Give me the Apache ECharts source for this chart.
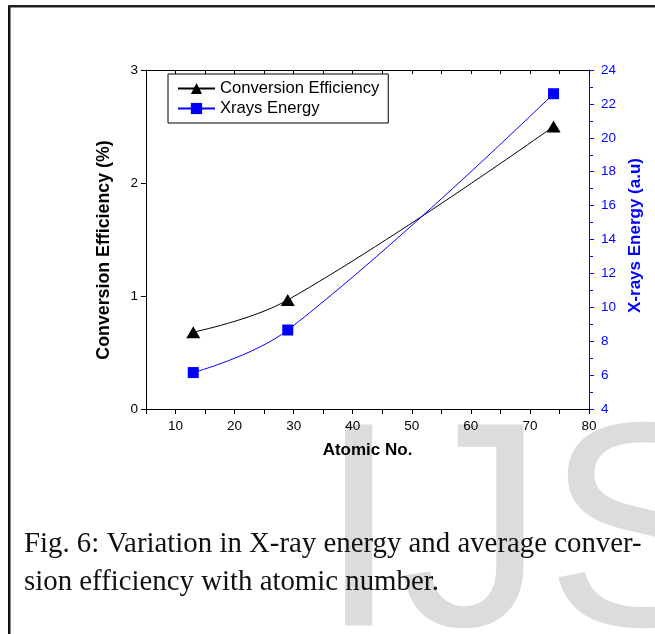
<!DOCTYPE html>
<html>
<head>
<meta charset="utf-8">
<script src="https://cdn.jsdelivr.net/npm/echarts@6/dist/echarts.min.js"></script>
<style>
  html, body { margin: 0; padding: 0; background: #fff; }
  #chart { width: 655px; height: 634px; }
</style>
</head>
<body>
<div id="chart"></div>
<script>
// data
const atomicNo = [13, 29, 74];
const efficiency = [0.68, 0.965, 2.5];
const xrayEnergy = [6.15, 8.66, 22.6];
const seriesNames = ['Conversion Efficiency', 'Xrays Energy'];
const captionLines = [
  'Fig. 6: Variation in X-ray energy and average conver-',
  'sion efficiency with atomic number.'
];
const watermark = 'IJS';

const SANS = 'Arial, "Liberation Sans", sans-serif';
const SERIF = '"Liberation Serif", "Times New Roman", serif';
const BLUE = '#0000ff';

// fit caption line 1 to the width it takes in the figure
const measure = document.createElement('canvas').getContext('2d');
measure.font = '100px ' + SERIF;
const captionSize = 100 * 618 / measure.measureText(captionLines[0]).width;

const chart = echarts.init(document.getElementById('chart'));

const option = {
  animation: false,
  backgroundColor: '#fff',
  grid: { left: 146, right: 66, top: 70, bottom: 225 },
  legend: {
    orient: 'vertical',
    left: 168,
    top: 74,
    padding: [6, 9, 6, 9],
    itemGap: 3,
    itemWidth: 37,
    itemHeight: 14,
    borderColor: '#000',
    borderWidth: 1,
    borderRadius: 0,
    backgroundColor: '#fff',
    textStyle: { fontFamily: SANS, fontSize: 16.6, color: '#000' },
    data: seriesNames
  },
  xAxis: [
    {
      type: 'value',
      position: 'bottom',
      min: 5,
      max: 80,
      interval: 5,
      name: 'Atomic No.',
      nameLocation: 'middle',
      nameGap: 33,
      nameTextStyle: { fontFamily: SANS, fontSize: 17, fontWeight: 'bold', color: '#000' },
      axisLine: { lineStyle: { color: '#000', width: 1 } },
      axisTick: { length: 5, lineStyle: { color: '#000' } },
      axisLabel: {
        margin: 10,
        fontFamily: SANS,
        fontSize: 13.5,
        color: '#000',
        formatter: (v) => (v % 10 === 0 ? String(v) : '')
      },
      splitLine: { show: false }
    },
    {
      type: 'value',
      position: 'top',
      min: 5,
      max: 80,
      interval: 5,
      axisLine: { lineStyle: { color: '#000', width: 1 } },
      axisTick: { inside: true, length: 4, lineStyle: { color: '#000' } },
      axisLabel: { show: false },
      splitLine: { show: false }
    }
  ],
  yAxis: [
    {
      type: 'value',
      position: 'left',
      min: 0,
      max: 3,
      interval: 1,
      name: 'Conversion Efficiency (%)',
      nameLocation: 'middle',
      nameRotate: 90,
      nameGap: 33,
      nameTextStyle: {
        fontFamily: SANS, fontSize: 17.8, fontWeight: 'bold', color: '#000',
        padding: [0, 21, 0, 0]
      },
      axisLine: { show: true, lineStyle: { color: '#000', width: 1 } },
      axisTick: { show: true, length: 5, lineStyle: { color: '#000' } },
      axisLabel: { margin: 8, fontFamily: SANS, fontSize: 13.5, color: '#000' },
      splitLine: { show: false }
    },
    {
      type: 'value',
      position: 'right',
      min: 4,
      max: 24,
      interval: 2,
      name: 'X-rays Energy (a.u)',
      nameLocation: 'middle',
      nameRotate: 90,
      nameGap: 35,
      nameTextStyle: {
        fontFamily: SANS, fontSize: 17, fontWeight: 'bold', color: BLUE,
        padding: [0, 0, 0, 8]
      },
      axisLine: { show: true, lineStyle: { color: BLUE, width: 1 } },
      axisTick: { show: true, length: 5, lineStyle: { color: BLUE } },
      minorTick: { show: true, splitNumber: 2, length: 4, lineStyle: { color: BLUE } },
      axisLabel: { margin: 12, fontFamily: SANS, fontSize: 13.5, color: BLUE },
      splitLine: { show: false }
    }
  ],
  series: [
    {
      name: seriesNames[0],
      type: 'line',
      xAxisIndex: 0,
      yAxisIndex: 0,
      data: atomicNo.map((x, i) => [x, efficiency[i]]),
      smooth: 0.4,
      symbol: 'triangle',
      symbolSize: [14, 12],
      itemStyle: { color: '#000' },
      lineStyle: { color: '#000', width: 1 },
      z: 3
    },
    {
      name: seriesNames[1],
      type: 'line',
      xAxisIndex: 0,
      yAxisIndex: 1,
      data: atomicNo.map((x, i) => [x, xrayEnergy[i]]),
      smooth: 0.4,
      symbol: 'rect',
      symbolSize: 11,
      itemStyle: { color: BLUE },
      lineStyle: { color: BLUE, width: 1 },
      z: 3
    }
  ],
  graphic: [
    {
      type: 'text',
      z: -10,
      left: 318,
      top: 399,
      style: {
        text: watermark,
        fill: '#dcdcdc',
        font: '292px ' + SANS
      }
    },
    {
      type: 'text',
      z: 10,
      style: {
        text: captionLines[0],
        x: 24,
        y: 553 - 0.305 * captionSize,
        fill: '#111',
        font: captionSize.toFixed(2) + 'px ' + SERIF,
        verticalAlign: 'middle'
      }
    },
    {
      type: 'text',
      z: 10,
      style: {
        text: captionLines[1],
        x: 24,
        y: 591 - 0.305 * captionSize,
        fill: '#111',
        font: captionSize.toFixed(2) + 'px ' + SERIF,
        verticalAlign: 'middle'
      }
    },
    {
      type: 'rect',
      z: 10,
      shape: { x: 8, y: 5, width: 2.5, height: 629 },
      style: { fill: '#111' }
    },
    {
      type: 'rect',
      z: 10,
      shape: { x: 8, y: 5, width: 647, height: 2.5 },
      style: { fill: '#222' }
    }
  ]
};

chart.setOption(option);
</script>
</body>
</html>
